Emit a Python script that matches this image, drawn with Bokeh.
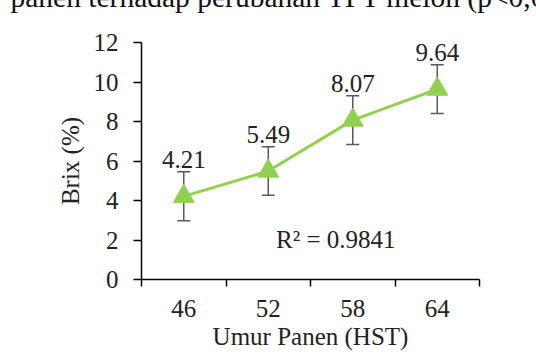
from bokeh.plotting import figure
from bokeh.models import (Range1d, FixedTicker, Label, Whisker,
                          ColumnDataSource, TeeHead)
from bokeh.embed import file_html
from bokeh.resources import INLINE
from bokeh.core.properties import value

# ---- data ----
umur = ["46", "52", "58", "64"]
brix = [4.21, 5.49, 8.07, 9.64]
err = [1.24, 1.23, 1.23, 1.23]
r2 = 0.9841
y_ticks = [0, 2, 4, 6, 8, 10, 12]
caption = "panen terhadap perubahan TPT melon (p<0,05)"
x_title = "Umur Panen (HST)"
y_title = "Brix (%)"

FONT = "Liberation Serif"
FS = "25px"
GREEN = "#92D050"

xpos = [i + 0.5 for i in range(len(umur))]
src = ColumnDataSource(dict(
    x=xpos, y=brix,
    upper=[b + e for b, e in zip(brix, err)],
    lower=[b - e for b, e in zip(brix, err)],
    label=[f"{b:.2f}" for b in brix],
))

p = figure(width=536, height=362, output_backend="svg", toolbar_location=None,
           x_range=Range1d(0, len(umur)), y_range=Range1d(0, 12),
           min_border_left=141, min_border_right=57, min_border_top=42,
           min_border_bottom=83)
p.grid.visible = False
p.outline_line_color = None
p.background_fill_color = "white"
p.border_fill_color = "white"

# axes
yax = p.yaxis[0]
yax.ticker = FixedTicker(ticks=y_ticks, minor_ticks=[])
yax.major_tick_in = 0
yax.major_tick_out = 8
yax.minor_tick_line_color = None
yax.axis_line_width = 1.5
yax.major_tick_line_width = 1.5
yax.axis_line_color = "black"
yax.major_tick_line_color = "black"
yax.major_label_text_font = FONT
yax.major_label_text_font_size = FS
yax.major_label_text_color = "#222222"
yax.major_label_standoff = 15
yax.axis_label = y_title
yax.axis_label_text_font = FONT
yax.axis_label_text_font_size = FS
yax.axis_label_text_font_style = "normal"
yax.axis_label_text_color = "#222222"
yax.axis_label_standoff = 7

xax = p.xaxis[0]
xax.ticker = FixedTicker(ticks=xpos, minor_ticks=list(range(len(umur) + 1)))
xax.major_label_overrides = {x: u for x, u in zip(xpos, umur)}
xax.major_tick_line_color = None
xax.minor_tick_in = 0
xax.minor_tick_out = 7
xax.minor_tick_line_width = 1.5
xax.minor_tick_line_color = "black"
xax.axis_line_width = 1.5
xax.axis_line_color = "black"
xax.major_label_text_font = FONT
xax.major_label_text_font_size = FS
xax.major_label_text_color = "#222222"
xax.major_label_standoff = 13
xax.axis_label = x_title
xax.axis_label_text_font = FONT
xax.axis_label_text_font_size = FS
xax.axis_label_text_font_style = "normal"
xax.axis_label_text_color = "#222222"
xax.axis_label_standoff = 3

# error bars
wh = Whisker(source=src, base="x", upper="upper", lower="lower",
             line_color="#595959", line_width=1.5,
             upper_head=TeeHead(size=13, line_color="#595959", line_width=1.5),
             lower_head=TeeHead(size=13, line_color="#595959", line_width=1.5))
p.add_layout(wh)

p.line("x", "y", source=src, line_color=GREEN, line_width=3)
p.scatter("x", "y", source=src, marker="triangle", size=21,
          fill_color=GREEN, line_color=GREEN)

p.text("x", "y", text="label", source=src, y_offset=-37,
       text_font=value(FONT), text_font_size=FS, text_color="#222222",
       text_align="center", text_baseline="alphabetic")

p.add_layout(Label(x=2.30, y=2.05, text=f"R\u00b2 = {r2}", text_font=FONT,
                   text_font_size=FS, text_color="#222222",
                   text_align="center", text_baseline="alphabetic"))

# caption of the page above the chart, cut by the window's top edge
p.add_layout(Label(x=-131, y=45.5, x_units="screen", y_units="screen",
                   text=caption, text_font=FONT, text_font_size="29.5px",
                   text_color="#111111", text_baseline="alphabetic"), "above")

open("out.html", "w").write(file_html(p, INLINE))
